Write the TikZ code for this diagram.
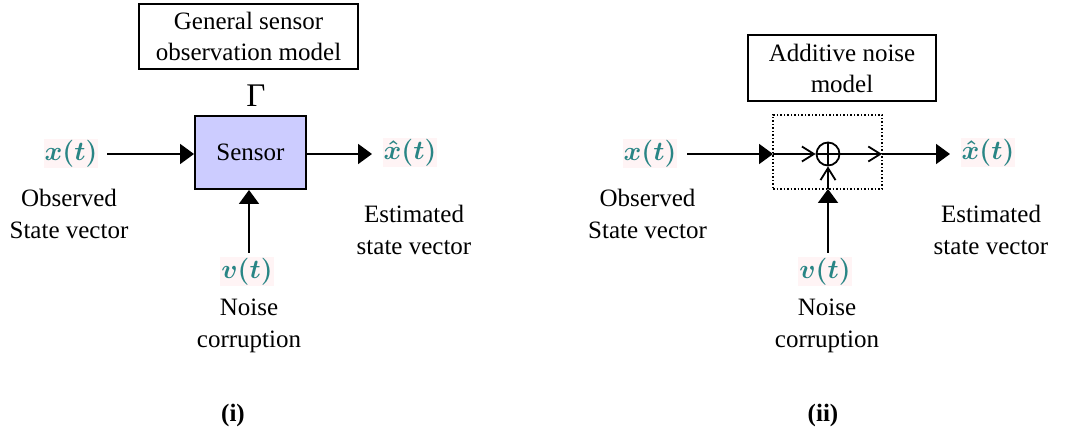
\RequirePackage{fix-cm}
\documentclass[tikz,border=0pt]{standalone}
\usepackage{fontspec}
\setmainfont{Liberation Serif}
\usetikzlibrary{arrows.meta}
\definecolor{sensorfill}{rgb}{0.80,0.80,1.00}
\definecolor{mathteal}{rgb}{0.16,0.52,0.52}
\definecolor{halo}{rgb}{1.00,0.955,0.96}
\tikzset{
  txt/.style={font=\fontsize{25}{32}\selectfont, align=center, inner sep=0pt},
  modelbox/.style={draw, line width=1.8pt, font=\fontsize{25}{31}\selectfont, align=center, inner sep=0pt},
  sig/.style={text=mathteal, fill=halo, inner sep=1pt, font=\fontsize{27}{30}\selectfont\boldmath},
  flow/.style={line width=2pt, -{Triangle[length=14pt,width=20pt]}},
  chev/.style={line width=2pt, -{Straight Barb[length=12pt,width=15pt,line width=1.8pt]}},
  caption/.style={font=\fontsize{25}{30}\selectfont\bfseries, inner sep=0pt}
}
\begin{document}
\begin{tikzpicture}[x=1pt, y=-1pt]
\useasboundingbox (0,0) rectangle (1081,435);

% ---------- (i) general sensor observation model ----------
\node[modelbox, minimum width=219pt, minimum height=65pt] (gbox) at (248.5,36.5) {General sensor\\observation model};
\node[font=\fontsize{33}{33}\selectfont, inner sep=0pt] (gamma) at (256,96) {Γ};
\node[draw, line width=2pt, fill=sensorfill, minimum width=111pt, minimum height=73pt, txt] (sensor) at (250.5,152.5) {Sensor};

\node[sig] (xa) at (71,154) {$x(t)$};
\coordinate (xa0) at (107,154);
\draw[flow] (xa0) -- (sensor.west |- xa0);

\node[sig] (xha) at (410,153) {$\hat{x}(t)$};
\coordinate (xha0) at (372,154);
\draw[flow] (sensor.east |- xha0) -- (xha0);

\node[txt] (obsa) at (69,214) {Observed\\State vector};
\node[txt] (esta) at (414,229.5) {Estimated\\state vector};

\node[sig] (va) at (247,272) {$v(t)$};
\coordinate (va0) at (249,253);
\draw[flow] (va0) -- (sensor.south -| va0);
\node[txt] (noisea) at (249,326) {Noise\\corruption};

\node[caption] (capa) at (233,415) {(i)};

% ---------- (ii) additive noise model ----------
\node[modelbox, minimum width=188pt, minimum height=66pt] (abox) at (842,68) {Additive noise\\model};
\node[draw, dotted, line width=1.5pt, minimum width=109pt, minimum height=74pt, inner sep=0pt] (dbox) at (827.5,152) {};
\node[draw, circle, line width=1.8pt, minimum size=23pt, inner sep=0pt] (sum) at (828,154) {};
\draw[line width=1.8pt] (sum.north) -- (sum.south);

\node[sig] (xb) at (650,154) {$x(t)$};
\coordinate (xb0) at (687,154);
\coordinate (din) at (773,154);
\coordinate (dout) at (882,154);
\draw[flow] (xb0) -- (din);
\draw[chev] (din) -- (sum.west);
\draw[line width=2pt] (sum.west) -- (sum.east);
\draw[chev] (sum.east) -- (dout);

\node[sig] (xhb) at (988,153) {$\hat{x}(t)$};
\coordinate (xhb0) at (950,154);
\draw[flow] (dout) -- (xhb0);

\node[txt] (obsb) at (647.5,214) {Observed\\State vector};
\node[txt] (estb) at (991,229.5) {Estimated\\state vector};

\node[sig] (vb) at (825,272) {$v(t)$};
\coordinate (vb0) at (828,253);
\coordinate (dbot) at (828,189);
\draw[flow] (vb0) -- (dbot);
\draw[chev] (dbot) -- (sum.south);
\node[txt] (noiseb) at (827,326) {Noise\\corruption};

\node[caption] (capb) at (823,415) {(ii)};
\end{tikzpicture}
\end{document}
